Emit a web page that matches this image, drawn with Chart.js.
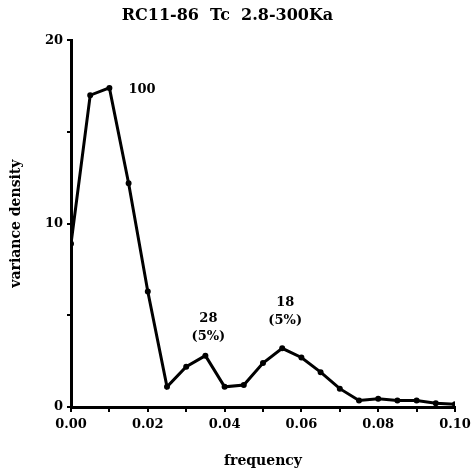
<!DOCTYPE html>
<html lang="en">
<head>
  <meta charset="UTF-8">
  <title>RC11-86 Tc 2.8-300Ka</title>
  <script src="https://cdn.jsdelivr.net/npm/chart.js"></script>
  <style>
    body {
      margin: 0;
      padding: 0;
      background: #fff;
    }
    #wrap {
      width: 472px;
      height: 474px;
    }
  </style>
</head>
<body>
  <div id="wrap"><canvas id="spec"></canvas></div>

  <script>
    // Spectrum (frequency in cycles/ka)
    const frequency = [0.000, 0.005, 0.010, 0.015, 0.020, 0.025, 0.030, 0.035, 0.040, 0.045,
                       0.050, 0.055, 0.060, 0.065, 0.070, 0.075, 0.080, 0.085, 0.090, 0.095, 0.100];
    const density = [8.9, 17.0, 17.4, 12.2, 6.3, 1.1, 2.2, 2.8, 1.1, 1.2,
                     2.4, 3.2, 2.7, 1.9, 1.0, 0.35, 0.45, 0.35, 0.35, 0.2, 0.15];

    // Period labels over the peaks
    const peakFreq = [0.010, 0.035, 0.055];
    const peakText = [['100'], ['28', '(5%)'], ['18', '(5%)']];

    const xTicks = [0.00, 0.02, 0.04, 0.06, 0.08, 0.10];
    const yTicks = [0, 10, 20];

    const serif = '"DejaVu Serif", "Liberation Serif", serif';

    const peakLabels = {
      id: 'peakLabels',
      afterDatasetsDraw(chart) {
        const { ctx, scales: { x, y } } = chart;
        // how far above each peak its label block starts
        const lift = [0, 37, 46];
        ctx.save();
        ctx.fillStyle = '#000';
        ctx.font = 'bold 13px ' + serif;
        ctx.textBaseline = 'middle';
        peakFreq.forEach((f, i) => {
          const idx = frequency.indexOf(f);
          const px = x.getPixelForValue(f);
          const py = y.getPixelForValue(density[idx]);
          const lines = peakText[i];
          if (lines.length === 1) {
            // single label sits to the right of the peak
            ctx.textAlign = 'left';
            ctx.fillText(lines[0], px + 19, py + 2);
          } else {
            ctx.textAlign = 'center';
            lines.forEach((t, j) => {
              ctx.fillText(t, px + 3, py - lift[i] + j * 18);
            });
          }
        });
        ctx.restore();
      }
    };

    new Chart(document.getElementById('spec'), {
      type: 'line',
      data: {
        datasets: [{
          data: frequency.map((f, i) => ({ x: f, y: density[i] })),
          borderColor: '#000',
          backgroundColor: '#000',
          borderWidth: 3,
          pointRadius: 1.5,
          tension: 0,
          fill: false
        }]
      },
      options: {
        responsive: true,
        maintainAspectRatio: false,
        animation: false,
        layout: { padding: { top: 0, right: 17, left: 0, bottom: 0 } },
        plugins: {
          legend: { display: false },
          tooltip: { enabled: false },
          title: {
            display: true,
            text: 'RC11-86  Tc  2.8-300Ka',
            color: '#000',
            font: { family: serif, size: 16, weight: 'bold' },
            padding: { top: 6, bottom: 15 }
          }
        },
        scales: {
          x: {
            type: 'linear',
            min: 0,
            max: 0.1,
            afterBuildTicks: s => {
              s.ticks = [];
              for (let i = 0; i <= 10; i++) s.ticks.push({ value: i / 100 });
            },
            afterFit: s => {
              s.height = 67;
              // let the last label hang into the right margin
              s.paddingRight = 0;
            },
            ticks: {
              autoSkip: false,
              maxRotation: 0,
              color: '#000',
              padding: 5,
              font: { family: serif, size: 13, weight: 'bold' },
              callback: v => {
                const hit = xTicks.find(t => Math.abs(t - v) < 1e-9);
                return hit === undefined ? '' : hit.toFixed(2);
              }
            },
            grid: { drawOnChartArea: false, color: '#000', tickLength: 5, lineWidth: 2 },
            border: { color: '#000', width: 3 },
            title: {
              display: true,
              text: 'frequency',
              color: '#000',
              font: { family: serif, size: 14, weight: 'bold' },
              padding: { top: 10 }
            }
          },
          y: {
            min: 0,
            max: 20,
            afterFit: s => { s.width = 71; },
            ticks: {
              stepSize: 5,
              color: '#000',
              padding: 4,
              font: { family: serif, size: 13, weight: 'bold' },
              callback: v => (yTicks.includes(v) ? v : '')
            },
            grid: { drawOnChartArea: false, color: '#000', tickLength: 4, lineWidth: 2 },
            border: { color: '#000', width: 3 },
            title: {
              display: true,
              text: 'variance density',
              color: '#000',
              font: { family: serif, size: 14, weight: 'bold' },
              padding: { top: 8, bottom: 10 }
            }
          }
        }
      },
      plugins: [peakLabels]
    });
  </script>
</body>
</html>
